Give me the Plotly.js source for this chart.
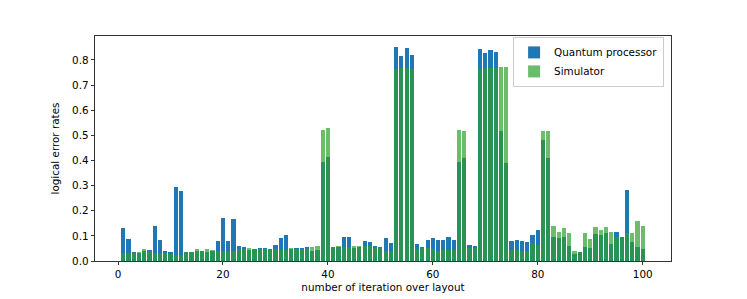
<!DOCTYPE html>
<html>
<head>
<meta charset="utf-8">
<script src="https://cdn.plot.ly/plotly-3.0.1.min.js"></script>
<style>
  html, body { margin: 0; padding: 0; background: #fff; }
  #chart { width: 747px; height: 299px; }
</style>
</head>
<body>
<div id="chart"></div>
<script>
// iteration index (1..100)
const iterations = Array.from({length: 100}, (_, i) => i + 1);

// logical error rates
const quantumProcessor = [
  0.132, 0.086, 0.036, 0.033, 0.040, 0.043, 0.139, 0.083, 0.041, 0.036,
  0.294, 0.278, 0.036, 0.036, 0.040, 0.041, 0.035, 0.038, 0.080, 0.170,
  0.078, 0.167, 0.060, 0.054, 0.045, 0.048, 0.050, 0.051, 0.049, 0.062,
  0.093, 0.102, 0.047, 0.050, 0.052, 0.056, 0.041, 0.043, 0.394, 0.415,
  0.056, 0.055, 0.094, 0.094, 0.050, 0.055, 0.078, 0.076, 0.061, 0.056,
  0.091, 0.072, 0.850, 0.815, 0.846, 0.818, 0.068, 0.055, 0.085, 0.091,
  0.083, 0.082, 0.094, 0.083, 0.394, 0.410, 0.062, 0.061, 0.845, 0.828,
  0.839, 0.830, 0.517, 0.388, 0.081, 0.083, 0.081, 0.075, 0.104, 0.123,
  0.481, 0.411, 0.096, 0.091, 0.096, 0.058, 0.029, 0.035, 0.054, 0.052,
  0.107, 0.103, 0.110, 0.069, 0.114, 0.094, 0.281, 0.077, 0.057, 0.048
];
const simulator = [
  0.031, 0.031, 0.033, 0.035, 0.048, 0.040, 0.031, 0.031, 0.031, 0.027,
  0.024, 0.024, 0.034, 0.034, 0.046, 0.040, 0.048, 0.044, 0.041, 0.041,
  0.040, 0.038, 0.048, 0.047, 0.050, 0.047, 0.049, 0.049, 0.047, 0.046,
  0.043, 0.043, 0.052, 0.048, 0.048, 0.047, 0.056, 0.061, 0.521, 0.528,
  0.054, 0.058, 0.055, 0.055, 0.059, 0.059, 0.061, 0.061, 0.050, 0.050,
  0.041, 0.041, 0.762, 0.769, 0.769, 0.763, 0.048, 0.052, 0.053, 0.049,
  0.041, 0.045, 0.045, 0.045, 0.521, 0.516, 0.053, 0.053, 0.762, 0.767,
  0.769, 0.769, 0.773, 0.770, 0.045, 0.045, 0.039, 0.038, 0.071, 0.064,
  0.518, 0.517, 0.139, 0.117, 0.132, 0.113, 0.040, 0.036, 0.113, 0.086,
  0.136, 0.122, 0.135, 0.115, 0.094, 0.090, 0.113, 0.110, 0.159, 0.139
];

const xTicks = [0, 20, 40, 60, 80, 100];
const yTicks = [0.0, 0.1, 0.2, 0.3, 0.4, 0.5, 0.6, 0.7, 0.8];

const font = {family: "DejaVu Sans, sans-serif", size: 10.4, color: "#000"};

const traces = [
  {
    type: "bar", name: "Quantum processor",
    x: iterations, y: quantumProcessor, width: 0.8,
    marker: {color: "#1f77b4", line: {width: 0}},
    hoverinfo: "x+y"
  },
  {
    type: "bar", name: "Simulator",
    x: iterations, y: simulator, width: 0.8,
    marker: {color: "rgba(44,160,44,0.7)", line: {width: 0}},
    hoverinfo: "x+y"
  }
];

const axisCommon = {
  showline: true, linecolor: "#000", linewidth: 0.8, mirror: true,
  ticks: "outside", ticklen: 3.5, tickwidth: 0.8, tickcolor: "#000",
  showgrid: false, zeroline: false, tickfont: font
};

const layout = {
  width: 747, height: 299,
  margin: {l: 95, r: 76, t: 36, b: 38},
  paper_bgcolor: "#fff", plot_bgcolor: "#fff",
  font: font,
  barmode: "overlay",
  bargap: 0,
  showlegend: true,
  legend: {
    x: 0.988, y: 0.996, xanchor: "right", yanchor: "top",
    bgcolor: "rgba(255,255,255,0.8)", bordercolor: "#cccccc", borderwidth: 1,
    font: font, tracegroupgap: 0
  },
  xaxis: Object.assign({}, axisCommon, {
    range: [-4.39, 105.39], tickvals: xTicks, ticktext: xTicks.map(String),
    title: {text: "number of iteration over layout", font: font, standoff: 4}
  }),
  yaxis: Object.assign({}, axisCommon, {
    range: [0, 0.895], tickvals: yTicks, ticktext: yTicks.map(v => v.toFixed(1)),
    title: {text: "logical error rates", font: font, standoff: 10}
  })
};

Plotly.newPlot("chart", traces, layout, {displayModeBar: false, staticPlot: true});
</script>
</body>
</html>
